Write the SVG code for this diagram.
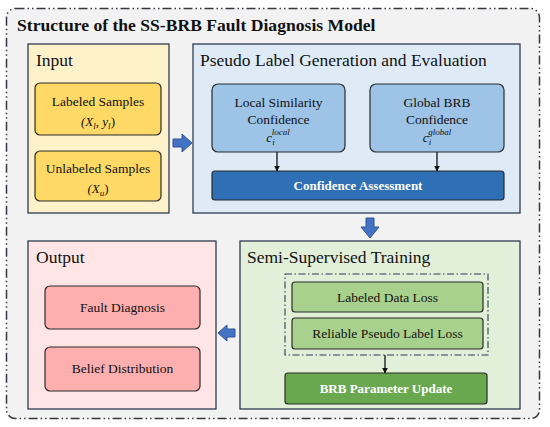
<svg xmlns="http://www.w3.org/2000/svg" width="550" height="427" viewBox="0 0 550 427">
<defs>
<style>
.t{font-family:"Liberation Serif","Times New Roman",serif;fill:#111;}
.title{font-size:17.6px;font-weight:bold;}
.ph{font-size:17.5px;}
.bx{font-size:13.5px;text-anchor:middle;}
.bw{font-size:13px;font-weight:bold;text-anchor:middle;fill:#fff;}
.m{font-size:13px;font-style:italic;text-anchor:middle;}
.panel{stroke:#2f3b52;stroke-width:1.3;}
.box{stroke:#2b2b2b;stroke-width:1.2;}
.barrow{fill:#4472c4;stroke:#2f5597;stroke-width:1;}
.conn{stroke:#111;stroke-width:1.3;fill:none;}
</style>
<marker id="ah" viewBox="0 0 10 10" refX="9" refY="5" markerWidth="6" markerHeight="6" orient="auto" markerUnits="userSpaceOnUse">
<path d="M0,0 L10,5 L0,10 z" fill="#111"/>
</marker>
</defs>

<rect x="6.5" y="8.5" width="533" height="410" rx="9" fill="#f2f2f2" stroke="#33373f" stroke-width="1.5" stroke-dasharray="9 3 1.5 3 1.5 3"/>
<text class="t title" x="17" y="31">Structure of the SS-BRB Fault Diagnosis Model</text>

<g id="input">
<rect class="panel" x="28" y="44" width="141" height="169" fill="#fef2cb"/>
<text class="t ph" x="36" y="66">Input</text>
</g>
<g id="labeled-samples">
<rect class="box" x="35" y="83" width="126" height="52" rx="5" fill="#ffd966"/>
<text class="t bx" x="98" y="106">Labeled Samples</text>
<text class="t m" x="98" y="126">(<tspan>X</tspan><tspan font-size="9" dy="3">l</tspan><tspan dy="-3" font-style="normal">, </tspan>y<tspan font-size="9" dy="3">l</tspan><tspan dy="-3" font-style="normal">)</tspan></text>
</g>
<g id="unlabeled-samples">
<rect class="box" x="35" y="151" width="126" height="50" rx="5" fill="#ffd966"/>
<text class="t bx" x="98" y="173">Unlabeled Samples</text>
<text class="t m" x="98" y="193">(X<tspan font-size="9" dy="3">u</tspan><tspan dy="-3" font-style="normal">)</tspan></text>
</g>

<g id="pseudo-label">
<rect class="panel" x="193" y="44" width="327" height="169" fill="#deebf7"/>
<text class="t ph" x="200" y="66">Pseudo Label Generation and Evaluation</text>
</g>
<g id="local-similarity">
<rect class="box" x="212" y="84" width="133" height="68" rx="6" fill="#9dc3e6"/>
<text class="t bx" x="278.5" y="107">Local Similarity</text>
<text class="t bx" x="278.5" y="124">Confidence</text>
<text class="t m" x="278" y="142">c<tspan font-size="9" dy="3">i</tspan><tspan font-size="9" dx="-3" dy="-10">local</tspan></text>
</g>
<g id="global-brb">
<rect class="box" x="370" y="84" width="134" height="68" rx="6" fill="#9dc3e6"/>
<text class="t bx" x="437" y="107">Global BRB</text>
<text class="t bx" x="437" y="124">Confidence</text>
<text class="t m" x="437" y="142">c<tspan font-size="9" dy="3">i</tspan><tspan font-size="9" dx="-3" dy="-10">global</tspan></text>
</g>
<g id="confidence-assessment">
<rect class="box" x="212" y="171" width="292" height="29" rx="3" fill="#2e6fb5"/>
<text class="t bw" x="358" y="190">Confidence Assessment</text>
</g>

<g id="output">
<rect class="panel" x="28" y="241" width="188" height="168" fill="#ffe5e5"/>
<text class="t ph" x="36" y="263">Output</text>
</g>
<g id="fault-diagnosis">
<rect class="box" x="45" y="286" width="155" height="43" rx="5" fill="#fdafaf"/>
<text class="t bx" x="122.5" y="312">Fault Diagnosis</text>
</g>
<g id="belief-distribution">
<rect class="box" x="45" y="347" width="155" height="44" rx="5" fill="#fdafaf"/>
<text class="t bx" x="122.5" y="373">Belief Distribution</text>
</g>

<g id="semi-supervised">
<rect class="panel" x="240" y="241" width="280" height="168" fill="#e2efd9"/>
<text class="t ph" x="247" y="263">Semi-Supervised Training</text>
<rect x="285" y="274" width="203" height="81" fill="none" stroke="#2f3b52" stroke-width="1.1" stroke-dasharray="7 2.5 1.5 2.5"/>
</g>
<g id="labeled-data-loss">
<rect class="box" x="292" y="282" width="191" height="30" rx="3" fill="#a9d18e"/>
<text class="t bx" x="387.5" y="302">Labeled Data Loss</text>
</g>
<g id="reliable-pseudo-label-loss">
<rect class="box" x="292" y="318" width="191" height="31" rx="3" fill="#a9d18e"/>
<text class="t bx" x="387.5" y="338">Reliable Pseudo Label Loss</text>
</g>
<g id="brb-parameter-update">
<rect class="box" x="285" y="373" width="202" height="31" rx="3" fill="#6aa84f"/>
<text class="t bw" x="386" y="393">BRB Parameter Update</text>
</g>

<g id="connectors">
<line class="conn" x1="277" y1="152" x2="277" y2="171" marker-end="url(#ah)"/>
<line class="conn" x1="437" y1="152" x2="437" y2="171" marker-end="url(#ah)"/>
<line class="conn" x1="385" y1="355" x2="385" y2="373" marker-end="url(#ah)"/>
<path class="barrow" d="M173,139 L182,139 L182,134 L192,143 L182,152 L182,147 L173,147 Z"/>
<path class="barrow" d="M366,218 L374,218 L374,227 L379,227 L370,238 L361,227 L366,227 Z"/>
<path class="barrow" d="M235,329 L227,329 L227,325 L218,333 L227,341 L227,337 L235,337 Z"/>
</g>
</svg>
